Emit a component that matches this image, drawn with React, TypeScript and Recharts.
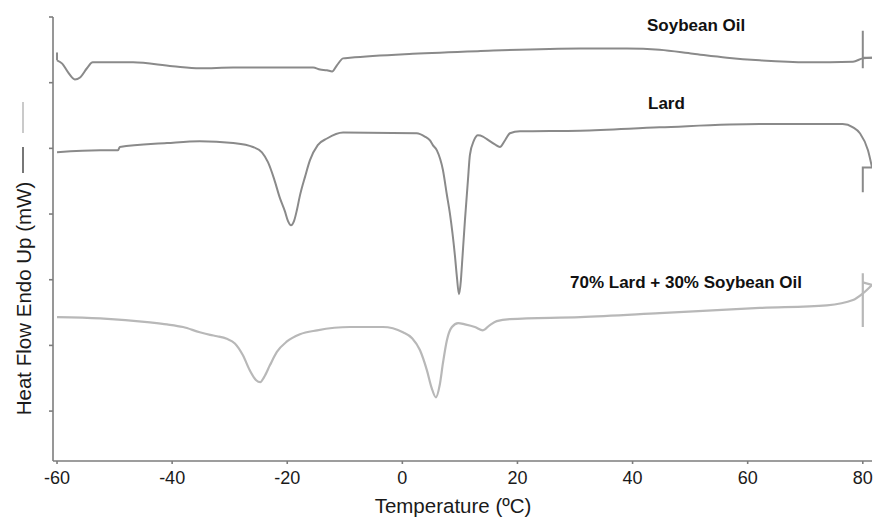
import React from 'react';
import { LineChart, Line, XAxis, YAxis } from 'recharts';

// Temperature (ºC) and heat flow (arbitrary mW units, tick spacing = 1)
const soyT = [-60, -59.1, -58.1, -56.9, -56.0, -54.8, -53.8, -51.3, -46.8, -39.9, -35.2, -29.4, -23.5, -18.0, -15.5, -14.3, -13.1, -12.2, -11.4, -10.3, -9.1, 1.8, 13.1, 30.9, 39.0, 44.7, 50.5, 56.4, 62.1, 70.3, 78.3, 80.0, 81.6];
const soyHF = [5.34, 5.29, 5.16, 5.05, 5.08, 5.22, 5.31, 5.31, 5.31, 5.25, 5.22, 5.23, 5.23, 5.23, 5.23, 5.2, 5.19, 5.17, 5.26, 5.37, 5.38, 5.44, 5.48, 5.52, 5.52, 5.5, 5.44, 5.38, 5.34, 5.31, 5.32, 5.37, 5.38];
const soyStartT = [-60, -60];
const soyStartHF = [5.46, 5.34];
const soyEndT = [81.6, 80.0, 80.0, 80.0];
const soyEndHF = [5.38, 5.38, 5.79, 5.22];

const lardT = [-60, -52.5, -49.4, -49.1, -40.9, -35.2, -29.4, -25.95, -24.4, -23.35, -22.3, -21.3, -20.4, -19.9, -19.35, -18.8, -18.3, -17.8, -16.9, -16.05, -14.7, -13.1, -10.3, 2.5, 3.9, 4.8, 5.3, 6.0, 7.05, 7.74, 8.26, 9.13, 9.48, 9.83, 10.17, 10.35, 10.87, 11.39, 11.74, 12.44, 13.13, 14.0, 14.69, 16.08, 16.95, 17.82, 18.69, 20.43, 30.9, 44.7, 62.1, 76.5, 78.3, 79.5, 80.9, 81.6];
const lardHF = [3.94, 3.97, 3.97, 4.02, 4.08, 4.11, 4.08, 4.02, 3.94, 3.79, 3.54, 3.25, 3.04, 2.9, 2.83, 2.9, 3.07, 3.28, 3.57, 3.82, 4.05, 4.15, 4.24, 4.23, 4.18, 4.12, 4.05, 3.97, 3.67, 3.29, 3.01, 2.37, 2.04, 1.78, 1.99, 2.22, 2.9, 3.51, 3.9, 4.12, 4.2, 4.18, 4.14, 4.06, 4.02, 4.12, 4.23, 4.26, 4.27, 4.32, 4.37, 4.37, 4.32, 4.23, 3.97, 3.71];
const lardEndT = [81.6, 80.0, 80.0];
const lardEndHF = [3.71, 3.71, 3.33];

const mixT = [-60, -52.5, -43.85, -40.9, -38.1, -35.2, -33.4, -32.2, -30.5, -29.1, -27.7, -26.5, -25.4, -24.7, -24.0, -23.0, -21.8, -20.05, -17.8, -14.8, -9.1, -3.4, 0.1, 1.7, 3.05, 4.27, 5.1, 5.83, 6.5, 7.05, 7.74, 8.61, 9.7, 10.87, 12.6, 14.0, 15.2, 16.4, 18.7, 30.9, 44.7, 62.1, 73.75, 78.3, 80.0, 81.6];
const mixHF = [1.43, 1.41, 1.35, 1.32, 1.28, 1.2, 1.16, 1.14, 1.1, 1.03, 0.85, 0.62, 0.47, 0.44, 0.52, 0.7, 0.9, 1.06, 1.17, 1.23, 1.28, 1.28, 1.2, 1.11, 0.93, 0.62, 0.35, 0.21, 0.4, 0.73, 1.08, 1.28, 1.34, 1.32, 1.28, 1.23, 1.31, 1.37, 1.4, 1.43, 1.49, 1.57, 1.61, 1.69, 1.79, 1.92];
const mixEndT = [81.6, 80.0, 80.0, 80.0];
const mixEndHF = [1.92, 1.96, 2.1, 1.28];

const xTicks = [-60, -40, -20, 0, 20, 40, 60, 80];
const yTicks = [0, 1, 2, 3, 4, 5, 6];

const toRows = (ts: number[], hs: number[]) => ts.map((t, i) => ({ t, hf: hs[i] }));

const DARK = '#8a8a8a';
const LIGHT = '#b8b8b8';
const series = [
  { data: toRows(soyT, soyHF), color: DARK, type: 'monotone' },
  { data: toRows(soyStartT, soyStartHF), color: DARK, type: 'linear' },
  { data: toRows(soyEndT, soyEndHF), color: DARK, type: 'linear' },
  { data: toRows(lardT, lardHF), color: DARK, type: 'monotone' },
  { data: toRows(lardEndT, lardEndHF), color: DARK, type: 'linear' },
  { data: toRows(mixT, mixHF), color: LIGHT, type: 'monotone' },
  { data: toRows(mixEndT, mixEndHF), color: LIGHT, type: 'linear' },
];

const FONT = '"Liberation Sans", Arial, sans-serif';
const AXIS = '#7d7d7d';

export default function App() {
  return (
    <div style={{ position: 'absolute', left: 0, top: 0, width: 874, height: 517, background: '#fff', fontFamily: FONT }}>
      <LineChart width={874} height={517} margin={{ top: 17, right: 2, bottom: 0, left: 0 }}>
        <XAxis
          type="number"
          dataKey="t"
          domain={[-60.7, 81.6]}
          ticks={xTicks}
          allowDataOverflow
          height={56}
          stroke={AXIS}
          strokeWidth={1.6}
          tickSize={3}
          tickMargin={7}
          tick={{ fill: '#1a1a1a', fontSize: 18, fontFamily: FONT }}
        />
        <YAxis
          type="number"
          dataKey="hf"
          domain={[-0.76, 6]}
          ticks={yTicks}
          allowDataOverflow
          width={53}
          stroke={AXIS}
          strokeWidth={1.6}
          tickSize={4}
          tick={() => <g />}
        />
        {series.map((s, i) => (
          <Line
            key={i}
            data={s.data}
            dataKey="hf"
            type={s.type as any}
            stroke={s.color}
            strokeWidth={s.color === LIGHT ? 2.2 : 2}
            dot={false}
            activeDot={false}
            isAnimationActive={false}
          />
        ))}
      </LineChart>
      <svg width={874} height={517} style={{ position: 'absolute', left: 0, top: 0, pointerEvents: 'none' }}>
        <g fontFamily={FONT} fill="#111">
          <text x={647} y={31} fontSize={17} fontWeight="bold">Soybean Oil</text>
          <text x={648} y={109} fontSize={17} fontWeight="bold">Lard</text>
          <text x={570} y={288} fontSize={17} fontWeight="bold">70% Lard + 30% Soybean Oil</text>
          <text x={453} y={513} fontSize={20.5} textAnchor="middle" fill="#1a1a1a">Temperature (ºC)</text>
          <text x={23} y={298.5} fontSize={20.5} textAnchor="middle" dominantBaseline="central" fill="#1a1a1a" transform="rotate(-90 23 298.5)">Heat Flow Endo Up (mW)</text>
        </g>
        <line x1={23} y1={147} x2={23} y2={173} stroke="#555" strokeWidth={1.6} />
        <line x1={23} y1={102} x2={23} y2={133} stroke="#bdbdbd" strokeWidth={1.6} />
      </svg>
    </div>
  );
}
